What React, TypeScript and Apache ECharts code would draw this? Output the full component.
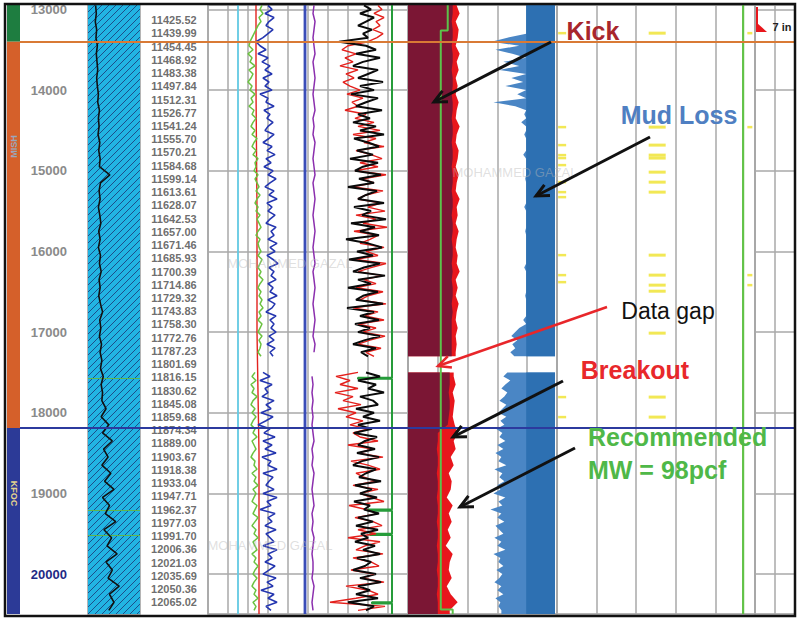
import React, { useEffect, useRef } from "react";
import * as echarts from "echarts";

const FONT = "'Liberation Sans', Arial, Helvetica, sans-serif";
const DEPTH_MIN = 12945;
const DEPTH_MAX = 20495;

// measured-depth scale ticks
const depthTicks = [13000, 14000, 15000, 16000, 17000, 18000, 19000, 20000];
const highlightedDepth = 20000;

// formation zones
const zoneTops = [12945, 13400, 18190];
const zoneBottoms = [13400, 18190, 20495];
const zoneNames = ["", "MISH", "KFOC"];
const zoneLabelDepths = [13170, 14700, 19000];
const zoneColors = ["#1e7d40", "#d5602a", "#2c3a97"];
const zoneTextColors = ["#ffffff", "#9aa7bd", "#e4d38e"];

const formationTops = [13400, 18190];
const formationColors = ["#d97a35", "#2c3a9e"];

// TVD column
const tvdLabelDepths = [
  13133, 13297, 13461, 13625, 13789, 13953, 14117, 14281, 14445, 14609,
  14773, 14937, 15101, 15265, 15429, 15593, 15757, 15921, 16085, 16249,
  16413, 16577, 16741, 16905, 17069, 17233, 17397, 17561, 17725, 17889,
  18053, 18217, 18381, 18545, 18709, 18873, 19037, 19201, 19365, 19529,
  19693, 19857, 20021, 20185, 20349,
];
const tvdLabels = [
  "11425.52", "11439.99", "11454.45", "11468.92", "11483.38", "11497.84", "11512.31", "11526.77", "11541.24", "11555.70",
  "11570.21", "11584.68", "11599.14", "11613.61", "11628.07", "11642.53", "11657.00", "11671.46", "11685.93", "11700.39",
  "11714.86", "11729.32", "11743.83", "11758.30", "11772.76", "11787.23", "11801.69", "11816.15", "11830.62", "11845.08",
  "11859.68", "11874.34", "11889.00", "11903.67", "11918.38", "11933.04", "11947.71", "11962.37", "11977.03", "11991.70",
  "12006.36", "12021.03", "12035.69", "12050.36", "12065.02",
];

// coarse log samples (100 ft)
const sampleDepths = [
  12950, 13050, 13150, 13250, 13350, 13450, 13550, 13650, 13750, 13850,
  13950, 14050, 14150, 14250, 14350, 14450, 14550, 14650, 14750, 14850,
  14950, 15050, 15150, 15250, 15350, 15450, 15550, 15650, 15750, 15850,
  15950, 16050, 16150, 16250, 16350, 16450, 16550, 16650, 16750, 16850,
  16950, 17050, 17150, 17250, 17350, 17450, 17550, 17650, 17750, 17850,
  17950, 18050, 18150, 18250, 18350, 18450, 18550, 18650, 18750, 18850,
  18950, 19050, 19150, 19250, 19350, 19450, 19550, 19650, 19750, 19850,
  19950, 20050, 20150, 20250, 20350, 20450,
];
// fine log samples (50 ft)
const fineDepths = [
  12950, 13000, 13050, 13100, 13150, 13200, 13250, 13300, 13350, 13400,
  13450, 13500, 13550, 13600, 13650, 13700, 13750, 13800, 13850, 13900,
  13950, 14000, 14050, 14100, 14150, 14200, 14250, 14300, 14350, 14400,
  14450, 14500, 14550, 14600, 14650, 14700, 14750, 14800, 14850, 14900,
  14950, 15000, 15050, 15100, 15150, 15200, 15250, 15300, 15350, 15400,
  15450, 15500, 15550, 15600, 15650, 15700, 15750, 15800, 15850, 15900,
  15950, 16000, 16050, 16100, 16150, 16200, 16250, 16300, 16350, 16400,
  16450, 16500, 16550, 16600, 16650, 16700, 16750, 16800, 16850, 16900,
  16950, 17000, 17050, 17100, 17150, 17200, 17250, 17300, 17350, 17400,
  17450, 17500, 17550, 17600, 17650, 17700, 17750, 17800, 17850, 17900,
  17950, 18000, 18050, 18100, 18150, 18200, 18250, 18300, 18350, 18400,
  18450, 18500, 18550, 18600, 18650, 18700, 18750, 18800, 18850, 18900,
  18950, 19000, 19050, 19100, 19150, 19200, 19250, 19300, 19350, 19400,
  19450, 19500, 19550, 19600, 19650, 19700, 19750, 19800, 19850, 19900,
  19950, 20000, 20050, 20100, 20150, 20200, 20250, 20300, 20350, 20400,
  20450,
];
const gapTop = 17300;
const gapBottom = 17500;

const grValues = [
  22, 24, 21, 25, 23, 27, 24, 26, 28, 25,
  27, 30, 28, 33, 30, 32, 29, 34, 31, 35,
  33, 63, 36, 32, 35, 30, 34, 37, 31, 35,
  30, 36, 33, 38, 32, 35, 31, 36, 42, 34,
  37, 33, 39, 35, 40, 36, 44, 38, 42, 40,
  52, 38, 60, 42, 70, 45, 58, 40, 66, 48,
  75, 42, 62, 50, 80, 46, 68, 55, 84, 52,
  70, 58, 90, 62, 75, 60,
];
const grMarkerDepths = [17569, 19206, 19516];

const greenBValues = [
  54, 52, 55, 51, 53, 50, 48, 46, 44, 42,
  41, 45, 40, 44, 42, 47, 41, 45, 43, 40,
  44, 42, 47, 43, 45, 41, 46, 44, 48, 45,
  43, 47, 44, 49, 46, 44, 48, 45, 50, 47,
  48, 46, 50, 47, 49, 51, 48, 52, 49, 47,
  50, 48, 52, 49, 51, 53, 50, 48, 52, 50,
  51, 53, 50, 54, 52, 50, 53, 51, 55, 52,
  50, 53, 51, 54, 52, 55, 51, 53, 50, 54,
  52, 50, 54, 51, 53, 52, 50, 53, null, null,
  null, 47, 44, 48, 43, 46, 44, 49, 45, 43,
  47, 44, 48, 45, 43, 47, 45, 49, 44, 46,
  48, 45, 43, 47, 46, 49, 44, 48, 46, 50,
  45, 48, 46, 44, 49, 47, 45, 50, 47, 44,
  48, 46, 50, 45, 47, 49, 44, 48, 46, 50,
  47, 45, 49, 46, 44, 48, 46, 50, 45, 48,
  46,
];
const blueBValues = [
  60, 64, 57, 66, 61, 58, 65, 60, 55, 48,
  52, 58, 50, 60, 54, 62, 57, 64, 55, 61,
  57, 64, 52, 60, 58, 66, 56, 62, 59, 65,
  60, 57, 66, 61, 55, 64, 59, 67, 58, 63,
  56, 65, 60, 68, 62, 57, 66, 61, 69, 59,
  64, 60, 67, 62, 58, 68, 63, 66, 60, 69,
  62, 67, 59, 65, 70, 61, 66, 63, 68, 60,
  65, 62, 69, 60, 67, 64, 58, 68, 62, 66,
  63, 68, 61, 66, 59, 67, 62, 65, null, null,
  null, 55, 62, 52, 64, 57, 60, 54, 66, 58,
  63, 53, 65, 58, 50, 62, 56, 67, 55, 64,
  57, 68, 54, 63, 60, 69, 55, 65, 61, 58,
  66, 55, 69, 59, 63, 52, 67, 60, 64, 57,
  68, 58, 62, 66, 55, 69, 60, 64, 57, 67,
  61, 55, 68, 59, 65, 53, 66, 60, 69, 58,
  63,
];
const purpleValues = [
  106, 105, 107, 106, 105, 106, 107, 105, 106, 107,
  106, 105, 106, 107, 105, 106, 105, 107, 106, 105,
  106, 107, 105, 106, 107, 106, 105, 106, 107, 106,
  105, 106, 107, 105, 106, 107, 106, 105, 106, 107,
  106, 105, 107, 106, null, null, 104, 105, 104, 105,
  104, 105, 104, 105, 106, 104, 105, 104, 106, 105,
  104, 105, 106, 104, 105, 104, 106, 105, 104, 105,
  105, 104, 106, 105, 104, 105,
];
const redCValues = [
  170, 174, 166, 176, 168, 172, 165, 175, 169, 160,
  140, 134, 148, 137, 145, 132, 150, 138, 146, 135,
  142, 152, 139, 155, 144, 150, 137, 158, 147, 166,
  150, 172, 145, 168, 156, 176, 148, 163, 174, 152,
  170, 147, 178, 155, 166, 145, 175, 158, 150, 173,
  160, 177, 148, 168, 155, 179, 146, 170, 162, 152,
  176, 158, 170, 147, 178, 163, 150, 174, 156, 168,
  148, 175, 160, 152, 178, 145, 170, 157, 176, 150,
  168, 155, 177, 162, 150, 173, 158, 166, null, null,
  null, 150, 128, 142, 132, 150, 127, 145, 135, 153,
  130, 148, 138, 155, 142, 160, 145, 152, 170, 140,
  165, 150, 175, 143, 160, 172, 148, 156, 168, 145,
  170, 152, 163, 176, 141, 158, 170, 147, 165, 174,
  150, 168, 140, 172, 157, 148, 175, 145, 163, 171,
  143, 166, 155, 176, 138, 160, 170, 148, 122, 177,
  150,
];
const blackCValues = [
  156, 163, 152, 166, 158, 150, 164, 155, 160, 131,
  158, 168, 148, 172, 155, 145, 170, 160, 150, 175,
  152, 166, 143, 170, 158, 148, 174, 150, 162, 145,
  168, 152, 176, 146, 160, 171, 149, 165, 142, 170,
  155, 147, 173, 151, 166, 140, 169, 158, 150, 176,
  146, 163, 154, 178, 143, 167, 152, 171, 138, 160,
  174, 149, 165, 141, 172, 156, 145, 177, 150, 163,
  140, 170, 155, 148, 175, 139, 166, 152, 171, 147,
  162, 150, 172, 157, 145, 168, 153, 160, null, null,
  null, 158, 172, 150, 168, 160, 176, 152, 165, 170,
  148, 166, 155, 172, 150, 164, 146, 169, 157, 150,
  167, 149, 171, 154, 145, 168, 158, 151, 173, 147,
  164, 152, 169, 146, 162, 156, 171, 150, 165, 148,
  170, 153, 160, 147, 167, 155, 172, 149, 163, 157,
  145, 168, 152, 173, 150, 162, 148, 170, 140, 166,
  158,
];
const redBDepths = [12945, 14000, 15500, 17000, 18500, 20495];
const redBValues = [48, 48, 49, 49, 51, 51];
const constDepths = [12945, 20495];
const cyanBValues = [30, 30];
const thickBlueValues = [97, 97];
const greenEValues = [4.7, 4.7];
const mudCoreValues = [119, 119];

const greenCDepths = [12945, 17565, 17565, 17580, 17580, 19200, 19200, 19215, 19215, 19500, 19500, 19515, 19515, 20350, 20350, 20365, 20365, 20495];
const greenCValues = [184, 184, 150, 150, 184, 184, 160, 160, 184, 184, 162, 162, 184, 184, 164, 164, 184, 184];

const greenDDepths = [12945, 13260, 13260, 20440, 20440, 20495];
const greenDValues = [40, 40, 33, 33, 45, 45];

const maroonValues = [
  45, 45, 44, 45, 45, 44, 45, 45, 44, 45,
  45, 44, 45, 45, 44, 45, 45, 44, 45, 45,
  44, 45, 45, 44, 45, 45, 44, 45, 45, 44,
  45, 45, 44, 45, 44, 45, 45, 44, 45, 44,
  44, 44, 44, 44, null, null, 42, 42, 41, 42,
  42, 41, 40, 30, 30, 29, 30, 30, 29, 30,
  30, 29, 30, 30, 29, 30, 30, 29, 30, 30,
  29, 30, 30, 29, 30, 30,
];
const redDValues = [
  49, 52, 48, 51, 50, 48, 52, 49, 51, 48,
  50, 48, 51, 49, 48, 52, 49, 48, 51, 50,
  48, 51, 49, 48, 52, 49, 50, 48, 51, 49,
  48, 50, 49, 52, 48, 50, 48, 51, 49, 48,
  50, 48, 49, 48, null, null, 46, 48, 45, 47,
  46, 45, 47, 50, 46, 48, 43, 46, 41, 44,
  43, 39, 45, 41, 44, 40, 43, 38, 45, 42,
  41, 44, 39, 43, 50, 42,
];
const mudLossValues = [
  119, 119, 119, 119, 119, 119, 119, 119, 100, 84,
  112, 88, 105, 119, 96, 112, 92, 119, 104, 116,
  98, 119, 110, 119, 86, 108, 119, 117, 119, 114,
  119, 119, 117, 119, 119, 119, 119, 116, 119, 119,
  119, 119, 119, 118, 119, 119, 119, 119, 119, 119,
  117, 119, 119, 119, 119, 119, 118, 119, 119, 119,
  119, 119, 119, 119, 119, 117, 119, 119, 119, 119,
  119, 119, 118, 119, 119, 119, 119, 119, 116, 119,
  112, 108, 104, 110, 105, 108, 103, 107, null, null,
  null, 100, 96, 103, 98, 94, 100, 97, 92, 99,
  95, 91, 99, 93, 97, 89, 95, 92, 98, 90,
  96, 88, 94, 91, 99, 87, 95, 92, 97, 90,
  93, 86, 98, 91, 95, 83, 94, 90, 97, 88,
  92, 96, 87, 94, 90, 98, 86, 93, 91, 96,
  89, 95, 92, 87, 94, 90, 96, 88, 93, 91,
  94,
];
const mudLossBase = 148;

const yellowCol1Depths = [13294, 14459, 14682, 14806, 14843, 14930, 15141, 15265, 15327, 16046, 16294, 16381, 17806, 18054];
const yellowCol2Depths = [13294, 14459, 14682, 14806, 14843, 15017, 15141, 15265, 16046, 16294, 16418, 16493, 17013, 17806, 18054];
const yellowCol3Depths = [13294, 14459, 16294, 16418];

const casingDepth = 13280;
const casingLabel = "7 in";

// ---------- helpers ----------
const pairs = (values: (number | null)[], depths: number[]) =>
  values.map((v, i) => [v == null ? "-" : v, depths[i]]);

function lineSeries(grid: number, values: (number | null)[], depths: number[], color: string, width: number, z = 5, extra: any = {}) {
  return {
    type: "line",
    xAxisIndex: grid,
    yAxisIndex: grid,
    data: pairs(values, depths),
    showSymbol: false,
    symbol: "none",
    connectNulls: false,
    silent: true,
    z,
    lineStyle: { color, width },
    ...extra,
  };
}

function fillSeries(grid: number, values: (number | null)[], depths: number[], base: number, color: string, z: number) {
  const segments = [[DEPTH_MIN, gapTop], [gapBottom, DEPTH_MAX]];
  return {
    type: "custom",
    xAxisIndex: grid,
    yAxisIndex: grid,
    silent: true,
    clip: true,
    z,
    data: [[base, depths[0]]],
    renderItem: (_params: any, api: any) => {
      const children: any[] = [];
      segments.forEach(([top, bot]) => {
        const idx = depths.map((_d, i) => i).filter((i) => values[i] != null && depths[i] >= top && depths[i] <= bot);
        if (!idx.length) return;
        const pts: number[][] = [api.coord([base, top]), api.coord([values[idx[0]], top])];
        idx.forEach((i) => pts.push(api.coord([values[i], depths[i]])));
        pts.push(api.coord([values[idx[idx.length - 1]], bot]));
        pts.push(api.coord([base, bot]));
        children.push({ type: "polygon", shape: { points: pts }, style: { fill: color } });
      });
      return { type: "group", children };
    },
  };
}

function arrowGraphic(from: number[], to: number[], color: string, width: number) {
  const a = Math.atan2(to[1] - from[1], to[0] - from[0]);
  const L = 14;
  const s = 0.45;
  const p1 = [to[0] - L * Math.cos(a - s), to[1] - L * Math.sin(a - s)];
  const p2 = [to[0] - L * Math.cos(a + s), to[1] - L * Math.sin(a + s)];
  return [
    { type: "line", z: 120, shape: { x1: from[0], y1: from[1], x2: to[0], y2: to[1] }, style: { stroke: color, lineWidth: width } },
    { type: "polyline", z: 120, shape: { points: [p1, to, p2] }, style: { stroke: color, lineWidth: width, fill: null } },
  ];
}

function textGraphic(text: string, x: number, y: number, font: string, color: string, align = "center", z = 120) {
  return {
    type: "text",
    z,
    x,
    y,
    style: { text, font, fill: color, align, textAlign: align, verticalAlign: "middle", textVerticalAlign: "middle" },
  };
}

export default function App() {
  const ref = useRef<HTMLDivElement>(null);

  useEffect(() => {
    if (!ref.current) return;
    const chart = echarts.init(ref.current, undefined, { renderer: "svg" });

    const gridDefs = [
      { left: 7, width: 13, show: false },
      { left: 88, width: 52, show: true },
      { left: 140, width: 68, show: false },
      { left: 208, width: 200, show: true },
      { left: 408, width: 149, show: true },
      { left: 557, width: 198, show: true },
      { left: 755, width: 40, show: true },
      { left: 20, width: 775, show: false },
    ];
    const xRanges = [
      [0, 1, 1], [0, 150, 150], [0, 1, 1], [0, 200, 20], [0, 150, 30], [0, 5, 1], [0, 2, 1], [0, 1, 1],
    ];
    const splitX = [false, false, false, true, true, true, true, false];

    const grid = gridDefs.map((g) => ({
      left: g.left,
      width: g.width,
      top: 5,
      height: 609,
      show: g.show,
      borderColor: "#9d9d9d",
      borderWidth: 1.5,
      backgroundColor: "transparent",
    }));
    const xAxis = xRanges.map((r, i) => ({
      gridIndex: i,
      type: "value",
      min: r[0],
      max: r[1],
      interval: r[2],
      axisLabel: { show: false },
      axisLine: { show: false },
      axisTick: { show: false },
      splitLine: { show: splitX[i], lineStyle: { color: "#a9a9a9", width: 1.5 } },
    }));
    const yAxis = gridDefs.map((_g, i) => ({
      gridIndex: i,
      type: "value",
      inverse: true,
      min: DEPTH_MIN,
      max: DEPTH_MAX,
      axisLine: { show: false },
      axisTick: { show: false },
      splitLine: { show: false },
      axisLabel:
        i === 1
          ? {
              show: true,
              customValues: depthTicks,
              margin: 21,
              formatter: (v: number) => (v === highlightedDepth ? `{b|${v}}` : `{a|${v}}`),
              rich: {
                a: { color: "#8a8a8a", fontWeight: "bold", fontSize: 13, fontFamily: FONT },
                b: { color: "#1f2a85", fontWeight: "bold", fontSize: 13, fontFamily: FONT },
              },
            }
          : { show: false },
    }));

    const hLines = (color: string) => ({
      silent: true,
      symbol: ["none", "none"],
      label: { show: false },
      lineStyle: { color, width: 1.5, type: "solid" },
      data: depthTicks.map((d) => ({ yAxis: d })),
    });

    const series: any[] = [
      // zone band
      {
        type: "custom",
        xAxisIndex: 0,
        yAxisIndex: 0,
        silent: true,
        data: zoneTops.map((t, i) => [i, t, zoneBottoms[i]]),
        renderItem: (_p: any, api: any) => {
          const i = api.value(0);
          const p0 = api.coord([0, api.value(1)]);
          const p1 = api.coord([1, api.value(2)]);
          const children: any[] = [
            { type: "rect", shape: { x: p0[0], y: p0[1], width: p1[0] - p0[0], height: p1[1] - p0[1] }, style: { fill: zoneColors[i] } },
          ];
          if (zoneNames[i]) {
            const pl = api.coord([0.5, zoneLabelDepths[i]]);
            children.push({
              type: "text",
              x: pl[0],
              y: pl[1],
              rotation: i === 1 ? Math.PI / 2 : -Math.PI / 2,
              style: { text: zoneNames[i], font: `bold 9px ${FONT}`, fill: zoneTextColors[i], align: "center", verticalAlign: "middle" },
            });
          }
          return { type: "group", children };
        },
      },
      // GR hatch background
      {
        type: "custom",
        xAxisIndex: 1,
        yAxisIndex: 1,
        silent: true,
        z: 1,
        data: [[0, DEPTH_MIN]],
        renderItem: (_p: any, api: any) => {
          const tl = api.coord([0, DEPTH_MIN]);
          const br = api.coord([150, DEPTH_MAX]);
          const x0 = tl[0], y0 = tl[1], x1 = br[0], y1 = br[1];
          const h = y1 - y0;
          const children: any[] = [
            { type: "rect", shape: { x: x0, y: y0, width: x1 - x0, height: h }, style: { fill: "#22b4e3" } },
          ];
          for (let a = x0 - h; a < x1; a += 7) {
            const xs = Math.max(a, x0);
            const xe = Math.min(a + h, x1);
            if (xe <= xs) continue;
            children.push({
              type: "line",
              shape: { x1: xs, y1: y1 - (xs - a), x2: xe, y2: y1 - (xe - a) },
              style: { stroke: "#1c4f8a", lineWidth: 1 },
            });
          }
          return { type: "group", children };
        },
      },
      lineSeries(1, grValues, sampleDepths, "#111111", 1.6, 6, {
        markLine: {
          silent: true,
          symbol: ["none", "none"],
          label: { show: false },
          lineStyle: { color: "#5fb64f", width: 1, type: "solid" },
          data: grMarkerDepths.map((d) => ({ yAxis: d })),
        },
      }),
      // TVD labels
      {
        type: "scatter",
        xAxisIndex: 2,
        yAxisIndex: 2,
        silent: true,
        symbolSize: 1,
        itemStyle: { color: "rgba(0,0,0,0)" },
        data: tvdLabelDepths.map((d, i) => [0.5, d, tvdLabels[i]]),
        label: {
          show: true,
          position: "inside",
          formatter: (p: any) => p.data[2],
          color: "#474747",
          fontSize: 11,
          fontWeight: "bold",
          fontFamily: FONT,
        },
      },
      // track B/C
      lineSeries(3, cyanBValues, constDepths, "#62c9e3", 1.8, 5, { markLine: hLines("#a9a9a9") }),
      lineSeries(3, redBValues, redBDepths, "#e2231f", 1.4, 6),
      lineSeries(3, greenBValues, fineDepths, "#6bc240", 1.5, 7),
      lineSeries(3, blueBValues, fineDepths, "#2436b0", 1.6, 8),
      lineSeries(3, thickBlueValues, constDepths, "#3a4db8", 2.8, 6),
      lineSeries(3, purpleValues, sampleDepths, "#8b2fae", 1.5, 6),
      lineSeries(3, greenCValues, greenCDepths, "#269c3a", 2, 6),
      lineSeries(3, redCValues, fineDepths, "#e4201c", 1.4, 7),
      lineSeries(3, blackCValues, fineDepths, "#0a0a0a", 2, 8),
      // track D
      fillSeries(4, redDValues, sampleDepths, 0, "#e8161c", 3),
      fillSeries(4, maroonValues, sampleDepths, 0, "#7b1634", 4),
      fillSeries(4, mudLossValues, fineDepths, mudLossBase, "#4a86c5", 4),
      fillSeries(4, mudCoreValues, constDepths, mudLossBase, "#2d70b2", 5),
      lineSeries(4, greenDValues, greenDDepths, "#5cc24a", 2, 6),
      // track E
      lineSeries(5, greenEValues, constDepths, "#62c248", 2.2, 6),
      {
        type: "scatter",
        xAxisIndex: 5,
        yAxisIndex: 5,
        silent: true,
        symbol: "rect",
        symbolSize: [8, 2.5],
        itemStyle: { color: "#efe22a" },
        data: yellowCol1Depths.map((d) => [0.13, d]),
      },
      {
        type: "scatter",
        xAxisIndex: 5,
        yAxisIndex: 5,
        silent: true,
        symbol: "rect",
        symbolSize: [17, 3],
        itemStyle: { color: "#efe22a" },
        data: yellowCol2Depths.map((d) => [2.53, d]),
      },
      {
        type: "scatter",
        xAxisIndex: 5,
        yAxisIndex: 5,
        silent: true,
        symbol: "rect",
        symbolSize: [5, 2.5],
        itemStyle: { color: "#efe22a" },
        data: yellowCol3Depths.map((d) => [4.87, d]),
      },
      // track F: grid lines + casing shoe
      {
        type: "custom",
        xAxisIndex: 6,
        yAxisIndex: 6,
        silent: true,
        z: 10,
        data: [[0.1, casingDepth]],
        markLine: hLines("#a9a9a9"),
        renderItem: (_p: any, api: any) => {
          const pt = api.coord([api.value(0), api.value(1)]);
          const top = api.coord([api.value(0), DEPTH_MIN]);
          return {
            type: "group",
            children: [
              { type: "line", shape: { x1: pt[0], y1: top[1] + 2, x2: pt[0], y2: pt[1] }, style: { stroke: "#e8161c", lineWidth: 2 } },
              { type: "polygon", shape: { points: [[pt[0], pt[1] - 9], [pt[0], pt[1]], [pt[0] + 10, pt[1]]] }, style: { fill: "#e8161c" } },
              {
                type: "text",
                x: pt[0] + 25,
                y: pt[1] - 5,
                style: { text: casingLabel, font: `bold 11px ${FONT}`, fill: "#222", align: "center", verticalAlign: "middle" },
              },
            ],
          };
        },
      },
      // overlay: formation tops
      {
        type: "line",
        xAxisIndex: 7,
        yAxisIndex: 7,
        silent: true,
        symbol: "none",
        z: 20,
        data: [[0, DEPTH_MIN]],
        lineStyle: { opacity: 0 },
        markLine: {
          silent: true,
          symbol: ["none", "none"],
          label: { show: false },
          z: 20,
          data: formationTops.map((d, i) => ({ yAxis: d, lineStyle: { color: formationColors[i], width: 2, type: "solid" } })),
        },
      },
    ];

    const graphic: any[] = [
      { type: "rect", z: 130, shape: { x: 0, y: 0, width: 800, height: 3 }, style: { fill: "#ffffff" } },
      { type: "rect", z: 131, shape: { x: 5, y: 4, width: 790, height: 612 }, style: { fill: "transparent", stroke: "#111111", lineWidth: 2.5 } },
      textGraphic("MOHAMMED GAZAL", 515, 172, `13px ${FONT}`, "rgba(185,185,185,0.45)", "center", 110),
      textGraphic("MOHAMMED GAZAL", 290, 263, `13px ${FONT}`, "rgba(185,185,185,0.45)", "center", 110),
      textGraphic("MOHAMMED GAZAL", 270, 545, `13px ${FONT}`, "rgba(185,185,185,0.45)", "center", 110),
      ...arrowGraphic([551, 42], [434, 102], "#111111", 3),
      ...arrowGraphic([650, 137], [536, 196], "#111111", 3),
      ...arrowGraphic([607, 307], [438, 366], "#e8262a", 2.5),
      ...arrowGraphic([563, 381], [453, 437], "#111111", 3),
      ...arrowGraphic([575, 448], [460, 507], "#111111", 3),
      textGraphic("Kick", 593, 31, `bold 25px ${FONT}`, "#a8262c"),
      textGraphic("Mud Loss", 679, 115, `bold 25px ${FONT}`, "#4f7fc2"),
      textGraphic("Data gap", 668, 311, `23px ${FONT}`, "#111111"),
      textGraphic("Breakout", 635, 370, `bold 25px ${FONT}`, "#e8282b"),
      textGraphic("Recommended", 588, 437, `bold 25px ${FONT}`, "#4fb848", "left"),
      textGraphic("MW = 98pcf", 588, 470, `bold 25px ${FONT}`, "#4fb848", "left"),
    ];

    chart.setOption({
      animation: false,
      backgroundColor: "#ffffff",
      grid,
      xAxis,
      yAxis,
      series,
      graphic,
    });

    return () => chart.dispose();
  }, []);

  return (
    <div
      ref={ref}
      style={{ position: "fixed", left: 0, top: 0, width: "800px", height: "621px", background: "#fff" }}
    />
  );
}
